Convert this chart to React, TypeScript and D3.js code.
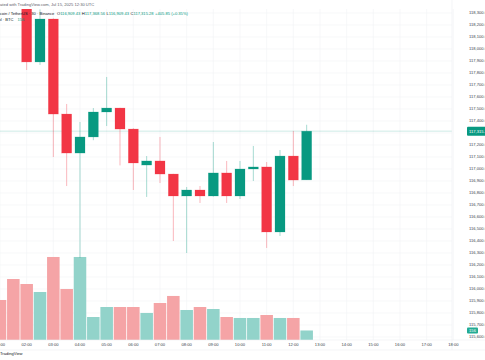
import * as d3 from 'd3';
import React from 'react';

// 30 min candles, BTCUSDT, Binance, Jul 15 2025
const times = [
  '01:00', '01:30', '02:00', '02:30', '03:00', '03:30', '04:00', '04:30',
  '05:00', '05:30', '06:00', '06:30', '07:00', '07:30', '08:00', '08:30',
  '09:00', '09:30', '10:00', '10:30', '11:00', '11:30', '12:00', '12:30',
];
const opens = [
  118520, 118460, 118390, 117892, 118250, 117458, 117133, 117267,
  117475, 117508, 117333, 117033, 117067, 116958, 116775, 116825,
  116775, 116967, 116775, 117000, 117017, 116475, 117108, 116909.43,
];
const highs = [
  118560, 118500, 118400, 118330, 118255, 117542, 117392, 117508,
  117767, 117510, 117340, 117108, 117267, 116960, 116850, 116858,
  117225, 117067, 117067, 117192, 117058, 117158, 117317, 117368.56,
];
const lows = [
  118440, 118370, 117825, 117867, 117100, 116858, 116260, 117240,
  117358, 117030, 116825, 116767, 116883, 116400, 116300, 116717,
  116770, 116717, 116750, 116900, 116342, 116442, 116858, 116909.43,
];
const closes = [
  118460, 118390, 117892, 118250, 117458, 117133, 117267, 117475,
  117508, 117333, 117050, 117067, 116958, 116775, 116825, 116775,
  116967, 116775, 117000, 117017, 116475, 117108, 116908, 117315.28,
];
const volumes = [
  656, 1000, 918, 787, 1361, 836, 1361, 377,
  541, 541, 541, 443, 607, 722, 492, 541,
  508, 377, 361, 361, 410, 361, 361, 156,
];
const timeLabels = [
  '01:00', '02:00', '03:00', '04:00', '05:00', '06:00', '07:00', '08:00', '09:00',
  '10:00', '11:00', '12:00', '13:00', '14:00', '15:00', '16:00', '17:00', '18:00',
];
const priceTicks = d3.range(115600, 118400, 100);
const lastPrice = 117315.28;
const lastVolume = 156;

const W = 485;
const H = 360;
const paneTop = 9;
const paneBottom = 340;
const paneRight = 452;

const UP = '#089981';
const DOWN = '#f23645';
const UP_VOL = '#92d3ca';
const DOWN_VOL = '#f5a4a6';
const FONT = '"Liberation Sans", Arial, sans-serif';
const FS = 4.1;
const TXT = '#3b3f4b';

const toDate = (t: string) => {
  const [h, m] = t.split(':').map(Number);
  return new Date(Date.UTC(2025, 6, 15, h, m));
};

const x = d3
  .scaleUtc()
  .domain([toDate('01:00'), toDate('18:00')])
  .range([0, 453.33]);
const y = d3.scaleLinear().domain([117000, 118000]).range([169, 49]);
const vy = d3.scaleLinear().domain([0, 1000]).range([paneBottom, paneBottom - 61]);

const fmt = d3.format(',.2f');
const step = x(toDate('01:30')) - x(toDate('01:00'));
const bodyW = 10;

const App = () => {
  const candles = times.map((t, i) => ({
    t,
    o: opens[i],
    h: highs[i],
    l: lows[i],
    c: closes[i],
    v: volumes[i],
  }));

  // labels hidden behind the badges
  const shownTicks = priceTicks.filter(
    (p) => Math.abs(y(p) - y(lastPrice)) > 6 && Math.abs(y(p) - vy(lastVolume)) > 4
  );

  return (
    <svg
      width={W}
      height={H}
      style={{ position: 'absolute', left: 0, top: 0, background: '#fff' }}
      fontFamily={FONT}
    >
      <defs>
        <clipPath id="pane">
          <rect x={0} y={paneTop} width={paneRight} height={paneBottom - paneTop} />
        </clipPath>
      </defs>

      {/* grid */}
      <g stroke="#f2f3f5" strokeWidth={0.6}>
        {priceTicks.map((p) => (
          <line key={p} x1={0} x2={paneRight} y1={y(p)} y2={y(p)} />
        ))}
        {timeLabels.map((t) => (
          <line key={t} x1={x(toDate(t))} x2={x(toDate(t))} y1={paneTop} y2={paneBottom} />
        ))}
      </g>

      <g clipPath="url(#pane)">
        {/* volume */}
        {candles.map((d) => {
          const cx = x(toDate(d.t));
          const up = d.c >= d.o;
          return (
            <rect
              key={'v' + d.t}
              x={cx - step / 2 + 0.4}
              y={vy(d.v)}
              width={step - 0.8}
              height={paneBottom - vy(d.v)}
              fill={up ? UP_VOL : DOWN_VOL}
            />
          );
        })}

        {/* last price line */}
        <line
          x1={0}
          x2={paneRight}
          y1={y(lastPrice)}
          y2={y(lastPrice)}
          stroke={UP}
          strokeOpacity={0.25}
          strokeWidth={0.8}
        />

        {/* candles */}
        {candles.map((d) => {
          const cx = x(toDate(d.t));
          const up = d.c >= d.o;
          const col = up ? UP : DOWN;
          const top = y(Math.max(d.o, d.c));
          const bot = y(Math.min(d.o, d.c));
          return (
            <g key={'c' + d.t}>
              <line
                x1={cx}
                x2={cx}
                y1={y(d.h)}
                y2={y(d.l)}
                stroke={col}
                strokeOpacity={0.45}
                strokeWidth={0.8}
              />
              <rect
                x={cx - bodyW / 2}
                y={top}
                width={bodyW}
                height={Math.max(bot - top, 1)}
                fill={col}
                stroke={col}
                strokeOpacity={0.35}
                strokeWidth={0.6}
              />
            </g>
          );
        })}
      </g>

      {/* price scale */}
      <line x1={paneRight} x2={paneRight} y1={0} y2={350} stroke="#eceef2" strokeWidth={0.6} />
      <g fontSize={FS} fill={TXT}>
        {shownTicks.map((p) => (
          <text key={p} x={469} y={y(p)} dy="0.35em">
            {fmt(p)}
          </text>
        ))}
      </g>
      <rect x={467} y={y(lastPrice) - 4.5} width={20} height={9} rx={1} fill={UP} />
      <text x={469} y={y(lastPrice)} dy="0.35em" fontSize={FS} fill="#fff">
        {fmt(lastPrice)}
      </text>
      <rect x={467} y={vy(lastVolume) - 3} width={11} height={6} rx={1} fill="#22ab94" />
      <text x={472.5} y={vy(lastVolume)} dy="0.35em" fontSize={FS} fill="#fff" textAnchor="middle">
        {lastVolume}
      </text>

      {/* time scale */}
      <line x1={0} x2={W} y1={paneBottom} y2={paneBottom} stroke="#eceef2" strokeWidth={0.6} />
      <g fontSize={FS} fill={TXT} textAnchor="middle">
        {timeLabels.map((t) => (
          <text key={t} x={x(toDate(t))} y={344.5} dy="0.35em">
            {t}
          </text>
        ))}
      </g>
      <line x1={0} x2={W} y1={350} y2={350} stroke="#eceef2" strokeWidth={0.6} />
      <text x={0} y={354} dy="0.35em" fontSize={FS} fill="#131722">
        TradingView
      </text>

      {/* header */}
      <text x={-6.5} y={5} dy="0.35em" fontSize={FS} fill="#5d606b">
        Created with TradingView.com, Jul 15, 2025 12:30 UTC
      </text>
      <text x={-5} y={13.5} dy="0.35em" fontSize={FS} fill="#131722">
        <tspan>Bitcoin / TetherUS · 30 · Binance </tspan>
        <tspan dx={1.5}>O</tspan>
        <tspan fill={UP}>{fmt(opens[opens.length - 1])}</tspan>
        <tspan dx={1.5}>H</tspan>
        <tspan fill={UP}>{fmt(highs[highs.length - 1])}</tspan>
        <tspan dx={1.5}>L</tspan>
        <tspan fill={UP}>{fmt(lows[lows.length - 1])}</tspan>
        <tspan dx={1.5}>C</tspan>
        <tspan fill={UP}>{fmt(closes[closes.length - 1])}</tspan>
        <tspan dx={1.5} fill={UP}>+405.85 (+0.35%)</tspan>
      </text>
      <text x={-4} y={19.5} dy="0.35em" fontSize={FS} fill="#131722">
        <tspan>Vol · BTC</tspan>
        <tspan dx={4} fill={UP}>{lastVolume}</tspan>
      </text>
    </svg>
  );
};

export default App;
